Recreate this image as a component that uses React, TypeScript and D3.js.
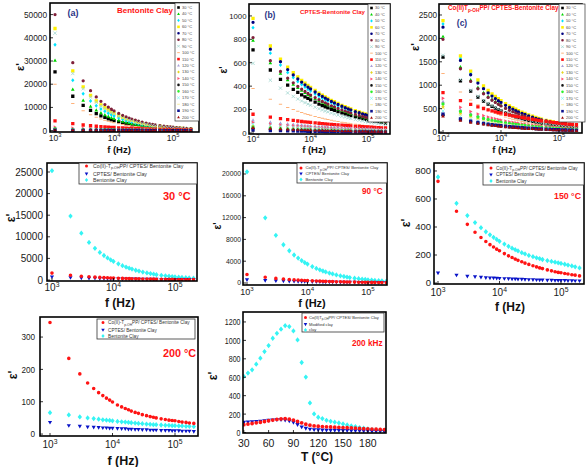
import React from 'react';
import * as d3 from 'd3';

// ---------- shared axis data ----------
const FREQ = [1000, 2000, 3000, 4000, 5000, 6000, 7000, 8000, 9000, 10000, 12000, 14000, 16000, 18000, 20000, 23000, 26000, 30000, 35000, 40000, 45000, 50000, 60000, 70000, 80000, 90000, 100000, 115000, 130000, 150000, 170000, 200000];
const TEMPS = [30, 40, 50, 60, 70, 80, 90, 100, 110, 120, 130, 140, 150, 160, 170, 180, 190, 200];
const T_AXIS = [30, 35, 40, 45, 50, 55, 60, 65, 70, 75, 80, 85, 90, 95, 100, 105, 110, 115, 120, 125, 130, 135, 140, 145, 150, 155, 160, 165, 170, 175, 180, 185, 190, 195, 200];

// ---------- (a) Bentonite Clay ----------
const A_30 = [25300, 14800, 10850, 8700, 7340, 6380, 5670, 5110, 4660, 4300, 3740, 3310, 2990, 2730, 2520, 2260, 2060, 1840, 1640, 1480, 1350, 1240, 1080, 960, 870, 790, 730, 660, 600, 530, 490, 430];
const A_40 = [30300, 17760, 13000, 10420, 8790, 7640, 6790, 6120, 5580, 5150, 4480, 3970, 3580, 3270, 3020, 2710, 2470, 2210, 1960, 1770, 1610, 1490, 1300, 1150, 1040, 950, 870, 780, 720, 640, 580, 510];
const A_50 = [37000, 21680, 15870, 12730, 10730, 9320, 8290, 7470, 6810, 6290, 5480, 4850, 4370, 4000, 3690, 3310, 3010, 2700, 2400, 2160, 1970, 1820, 1580, 1410, 1270, 1160, 1070, 960, 870, 780, 710, 630];
const A_60 = [44000, 25780, 18880, 15140, 12760, 11090, 9860, 8890, 8100, 7480, 6510, 5760, 5190, 4750, 4380, 3930, 3580, 3210, 2850, 2570, 2350, 2160, 1880, 1670, 1510, 1380, 1270, 1140, 1040, 930, 840, 740];
const A_70 = [300, 212, 173, 150, 134, 122, 113, 106, 100, 95, 87, 80, 75, 71, 67, 63, 59, 55, 51, 47, 45, 42, 39, 36, 34, 32, 30, 28, 26, 24, 23, 21];
const A_80 = [50000, 29300, 21450, 17200, 14500, 12600, 11200, 10100, 9200, 8500, 7400, 6550, 5900, 5400, 4980, 4470, 4070, 3650, 3240, 2920, 2670, 2460, 2140, 1900, 1720, 1570, 1440, 1300, 1180, 1060, 960, 850];
const A_90 = [42000, 24610, 18020, 14450, 12180, 10580, 9410, 8480, 7730, 7140, 6220, 5500, 4960, 4540, 4180, 3750, 3420, 3060, 2720, 2450, 2240, 2070, 1800, 1600, 1440, 1310, 1210, 1090, 990, 890, 810, 710];
const A_100 = [20000, 11720, 8580, 6880, 5800, 5040, 4480, 4040, 3680, 3400, 2960, 2620, 2360, 2160, 1990, 1790, 1630, 1460, 1300, 1170, 1070, 980, 860, 760, 690, 630, 580, 520, 470, 420, 380, 340];
const A_110 = [4200, 2970, 2420, 2100, 1880, 1710, 1590, 1490, 1400, 1330, 1210, 1120, 1050, 990, 940, 880, 820, 770, 710, 660, 630, 590, 540, 500, 470, 440, 420, 390, 370, 340, 320, 300];
const A_120 = [900, 636, 519, 450, 402, 367, 340, 319, 300, 284, 260, 240, 225, 212, 202, 188, 176, 165, 152, 142, 134, 127, 116, 108, 101, 95, 90, 84, 79, 73, 69, 64];
const A_130 = [700, 495, 404, 350, 313, 286, 265, 248, 233, 221, 202, 187, 175, 165, 157, 146, 137, 128, 118, 111, 104, 99, 90, 84, 78, 74, 70, 65, 61, 57, 54, 49];
const A_140 = [1500, 1060, 866, 750, 671, 612, 567, 531, 500, 474, 434, 401, 375, 354, 336, 314, 294, 275, 254, 237, 224, 212, 194, 180, 168, 158, 150, 140, 132, 122, 115, 106];
const A_150 = [400, 283, 231, 200, 179, 163, 151, 142, 133, 126, 116, 107, 100, 94, 90, 84, 78, 73, 68, 63, 60, 56, 52, 48, 45, 42, 40, 37, 35, 33, 31, 28];
const A_160 = [800, 566, 462, 400, 358, 326, 302, 283, 266, 253, 231, 214, 200, 189, 179, 167, 157, 146, 135, 126, 119, 113, 103, 96, 90, 84, 80, 74, 70, 65, 61, 57];
const A_170 = [600, 424, 346, 300, 268, 245, 227, 212, 200, 190, 173, 160, 150, 142, 134, 125, 118, 110, 101, 95, 89, 85, 77, 72, 67, 63, 60, 56, 53, 49, 46, 42];
const A_180 = [500, 354, 289, 250, 224, 204, 189, 177, 167, 158, 145, 134, 125, 118, 112, 105, 98, 92, 85, 79, 75, 71, 65, 60, 56, 53, 50, 47, 44, 41, 38, 35];
const A_190 = [200, 141, 115, 100, 89, 82, 76, 71, 67, 63, 58, 53, 50, 47, 45, 42, 39, 37, 34, 32, 30, 28, 26, 24, 22, 21, 20, 19, 18, 16, 15, 14];
const A_200 = [350, 247, 202, 175, 156, 143, 132, 124, 117, 111, 101, 93, 88, 83, 78, 73, 69, 64, 59, 55, 52, 49, 45, 42, 39, 37, 35, 33, 31, 29, 27, 25];

// ---------- (b) CPTES-Bentonite Clay ----------
const B_30 = [710, 538, 457, 408, 373, 346, 326, 309, 295, 283, 263, 247, 234, 224, 214, 202, 193, 182, 171, 163, 155, 148, 138, 130, 123, 117, 112, 107, 102, 96, 91, 85];
const B_40 = [790, 599, 509, 453, 415, 386, 363, 344, 328, 314, 292, 275, 261, 249, 239, 225, 215, 203, 190, 181, 172, 165, 153, 145, 137, 130, 125, 119, 113, 107, 101, 95];
const B_50 = [900, 682, 580, 517, 473, 439, 413, 392, 374, 358, 333, 313, 297, 284, 272, 257, 245, 231, 217, 206, 196, 188, 175, 165, 156, 149, 142, 135, 129, 122, 115, 108];
const B_60 = [980, 743, 631, 563, 515, 478, 450, 426, 407, 390, 363, 341, 323, 309, 296, 279, 267, 252, 236, 224, 214, 205, 190, 179, 170, 162, 155, 147, 140, 132, 125, 118];
const B_70 = [945, 716, 609, 542, 496, 461, 434, 411, 392, 376, 350, 329, 312, 298, 285, 269, 257, 243, 228, 216, 206, 198, 183, 173, 163, 156, 149, 142, 135, 128, 121, 113];
const B_80 = [815, 618, 525, 468, 428, 398, 374, 355, 338, 324, 302, 284, 269, 257, 246, 232, 222, 209, 196, 187, 178, 170, 158, 149, 141, 134, 129, 122, 117, 110, 104, 98];
const B_90 = [595, 451, 383, 342, 312, 290, 273, 259, 247, 237, 220, 207, 196, 187, 180, 170, 162, 153, 143, 136, 130, 124, 115, 109, 103, 98, 94, 89, 85, 80, 76, 71];
const B_100 = [380, 288, 245, 218, 200, 185, 174, 165, 158, 151, 141, 132, 125, 120, 115, 108, 103, 98, 92, 87, 83, 79, 74, 70, 66, 63, 60, 57, 54, 51, 49, 46];
const B_110 = [160, 135, 122, 113, 107, 102, 98, 95, 92, 90, 86, 83, 80, 78, 76, 73, 71, 68, 66, 64, 62, 60, 57, 55, 53, 52, 51, 49, 47, 46, 44, 43];
const B_120 = [110, 93, 84, 78, 74, 70, 68, 65, 63, 62, 59, 57, 55, 53, 52, 50, 49, 47, 45, 44, 42, 41, 39, 38, 37, 36, 35, 34, 33, 31, 30, 29];
const B_130 = [60, 50, 46, 42, 40, 38, 37, 36, 35, 34, 32, 31, 30, 29, 28, 27, 27, 26, 25, 24, 23, 23, 22, 21, 20, 20, 19, 18, 18, 17, 17, 16];
const B_140 = [90, 76, 68, 64, 60, 58, 55, 54, 52, 51, 48, 47, 45, 44, 43, 41, 40, 38, 37, 36, 35, 34, 32, 31, 30, 29, 28, 27, 27, 26, 25, 24];
const B_150 = [40, 34, 30, 28, 27, 26, 25, 24, 23, 22, 21, 21, 20, 19, 19, 18, 18, 17, 16, 16, 15, 15, 14, 14, 13, 13, 13, 12, 12, 11, 11, 11];
const B_160 = [50, 42, 38, 35, 33, 32, 31, 30, 29, 28, 27, 26, 25, 24, 24, 23, 22, 21, 21, 20, 19, 19, 18, 17, 17, 16, 16, 15, 15, 14, 14, 13];
const B_170 = [75, 63, 57, 53, 50, 48, 46, 45, 43, 42, 40, 39, 38, 36, 35, 34, 33, 32, 31, 30, 29, 28, 27, 26, 25, 24, 24, 23, 22, 21, 21, 20];
const B_180 = [30, 25, 23, 21, 20, 19, 18, 18, 17, 17, 16, 16, 15, 15, 14, 14, 13, 13, 12, 12, 12, 11, 11, 10, 10, 10, 9, 9, 9, 9, 8, 8];
const B_190 = [25, 21, 19, 18, 17, 16, 15, 15, 14, 14, 13, 13, 13, 12, 12, 11, 11, 11, 10, 10, 10, 9, 9, 9, 8, 8, 8, 8, 7, 7, 7, 7];
const B_200 = [45, 38, 34, 32, 30, 29, 28, 27, 26, 25, 24, 23, 23, 22, 21, 21, 20, 19, 18, 18, 17, 17, 16, 16, 15, 15, 14, 14, 13, 13, 12, 12];

// ---------- (c) Co(II)Tp-OHPP/ CPTES-Bentonite Clay ----------
const C_30 = [1600, 1093, 874, 747, 661, 597, 549, 510, 478, 451, 408, 374, 349, 326, 307, 285, 267, 246, 227, 210, 197, 186, 168, 155, 144, 135, 127, 118, 110, 102, 95, 87];
const C_40 = [2040, 1393, 1114, 953, 843, 761, 700, 651, 610, 575, 520, 477, 445, 416, 392, 363, 341, 314, 290, 267, 251, 237, 214, 197, 183, 172, 162, 150, 140, 130, 121, 111];
const C_50 = [2310, 1578, 1261, 1079, 954, 862, 792, 737, 691, 651, 589, 541, 504, 471, 444, 411, 386, 356, 328, 303, 284, 268, 243, 223, 207, 195, 183, 170, 159, 147, 137, 125];
const C_60 = [2380, 1626, 1299, 1111, 983, 888, 816, 759, 712, 671, 607, 557, 519, 486, 457, 424, 397, 367, 338, 312, 293, 276, 250, 230, 214, 200, 189, 175, 164, 151, 141, 129];
const C_70 = [2240, 1530, 1223, 1046, 925, 836, 768, 715, 670, 632, 571, 524, 488, 457, 430, 399, 374, 345, 318, 293, 276, 260, 235, 217, 201, 189, 178, 165, 154, 142, 133, 122];
const C_80 = [1980, 1352, 1081, 925, 818, 739, 679, 632, 592, 558, 505, 463, 432, 404, 380, 352, 331, 305, 281, 259, 244, 230, 208, 191, 178, 167, 157, 146, 136, 126, 117, 108];
const C_90 = [1640, 1120, 895, 766, 677, 612, 563, 523, 490, 462, 418, 384, 358, 335, 315, 292, 274, 253, 233, 215, 202, 190, 172, 159, 147, 138, 130, 121, 113, 104, 97, 89];
const C_100 = [1250, 854, 683, 584, 516, 466, 429, 399, 374, 353, 319, 293, 273, 255, 240, 223, 209, 193, 178, 164, 154, 145, 131, 121, 112, 105, 99, 92, 86, 80, 74, 68];
const C_110 = [840, 672, 591, 539, 502, 473, 451, 432, 416, 402, 380, 361, 346, 333, 322, 307, 296, 283, 269, 258, 249, 240, 227, 216, 207, 199, 192, 184, 177, 169, 162, 155];
const C_120 = [650, 476, 397, 348, 315, 290, 271, 255, 242, 231, 213, 198, 187, 177, 169, 159, 150, 140, 131, 124, 117, 112, 103, 96, 90, 86, 82, 77, 73, 68, 64, 60];
const C_130 = [540, 395, 329, 289, 262, 241, 225, 212, 201, 192, 177, 165, 155, 147, 140, 132, 125, 117, 109, 103, 97, 93, 85, 80, 75, 71, 68, 64, 60, 57, 53, 50];
const C_140 = [720, 527, 439, 386, 349, 321, 300, 283, 268, 256, 235, 220, 207, 196, 187, 176, 166, 156, 145, 137, 130, 124, 114, 107, 100, 95, 91, 85, 81, 76, 71, 66];
const C_150 = [360, 264, 220, 193, 175, 161, 150, 141, 134, 128, 118, 110, 103, 98, 94, 88, 83, 78, 73, 68, 65, 62, 57, 53, 50, 48, 45, 42, 40, 38, 36, 33];
const C_160 = [600, 439, 366, 322, 291, 268, 250, 236, 223, 213, 196, 183, 172, 163, 156, 146, 139, 130, 121, 114, 108, 103, 95, 89, 83, 79, 76, 71, 67, 63, 59, 55];
const C_170 = [450, 329, 275, 241, 218, 201, 188, 177, 167, 160, 147, 137, 129, 122, 117, 110, 104, 97, 91, 86, 81, 77, 71, 67, 63, 59, 57, 53, 50, 47, 45, 41];
const C_180 = [500, 366, 305, 268, 243, 223, 209, 197, 186, 178, 164, 153, 144, 136, 130, 122, 116, 108, 101, 95, 90, 86, 79, 74, 70, 66, 63, 59, 56, 53, 50, 46];
const C_190 = [380, 278, 232, 204, 184, 169, 158, 149, 141, 135, 124, 116, 109, 103, 99, 93, 88, 82, 77, 72, 68, 65, 60, 56, 53, 50, 48, 45, 43, 40, 38, 35];
const C_200 = [340, 249, 207, 182, 165, 152, 142, 134, 126, 121, 111, 104, 98, 92, 88, 83, 79, 73, 69, 65, 61, 58, 54, 50, 47, 45, 43, 40, 38, 36, 34, 31];

// ---------- comparison panels ----------
const CO_90 = [1550, 1059, 846, 724, 640, 578, 532, 494, 463, 437, 395, 363, 338, 316, 298, 276, 259, 239, 220, 203, 191, 180, 163, 150, 139, 131, 123, 114, 107, 99, 92, 84];
const BENT_90 = [20400, 11950, 8750, 7020, 5920, 5140, 4570, 4120, 3750, 3470, 3020, 2670, 2410, 2200, 2030, 1820, 1660, 1490, 1320, 1190, 1090, 1000, 870, 780, 700, 640, 590, 530, 480, 430, 390, 340];
const CO_150 = [726, 513, 419, 363, 325, 296, 274, 257, 242, 230, 210, 194, 182, 171, 162, 152, 142, 133, 123, 115, 108, 103, 94, 87, 81, 76, 73, 68, 64, 59, 56, 51];
const CPTES_150 = [71, 56, 48, 44, 41, 38, 36, 35, 34, 33, 31, 30, 29, 28, 27, 26, 25, 24, 23, 22, 21, 21, 20, 19, 18, 18, 17, 17, 16, 16, 15, 15];
const BENT_150 = [757, 569, 482, 432, 395, 366, 344, 326, 311, 298, 278, 262, 249, 238, 229, 217, 208, 197, 188, 180, 174, 168, 160, 154, 149, 144, 140, 134, 128, 122, 116, 108];
const CO_200 = [345, 234, 186, 158, 141, 128, 119, 111, 105, 99, 90, 84, 79, 75, 71, 67, 64, 60, 57, 54, 52, 50, 47, 45, 43, 42, 41, 39, 37, 36, 34, 33];
const CPTES_200 = [36, 26, 24, 22, 21, 20, 19, 19, 18, 18, 17, 16, 16, 15, 15, 14, 14, 13, 13, 12, 12, 12, 11, 11, 11, 10, 10, 10, 9, 9, 9, 8];
const BENT_200 = [66, 59, 53, 50, 48, 46, 44, 43, 42, 41, 39, 38, 37, 36, 35, 34, 33, 32, 31, 30, 29, 29, 28, 27, 27, 26, 26, 25, 25, 24, 24, 23];

// ---------- 200 kHz vs temperature ----------
const CO_T = [85, 92, 98, 105, 112, 120, 128, 135, 142, 148, 150, 145, 135, 120, 105, 90, 80, 72, 68, 65, 62, 60, 58, 56, 54, 52, 50, 48, 45, 42, 40, 38, 36, 34, 32];
const MOD_T = [110, 112, 115, 118, 122, 127, 132, 136, 138, 138, 135, 125, 110, 85, 60, 45, 35, 30, 28, 26, 25, 24, 23, 22, 21, 20, 19, 18, 17, 16, 15, 14, 13, 12, 11];
const CLAY_T = [609, 645, 681, 742, 807, 879, 944, 1023, 1077, 1121, 1160, 1150, 1103, 1005, 760, 602, 321, 202, 166, 151, 133, 122, 112, 104, 94, 83, 72, 65, 54, 47, 40, 32, 29, 25, 22];

// ---------- tick labels ----------
const X_LOG_TICKS = [1000, 10000, 100000];
const YT_A = [0, 10000, 20000, 30000, 40000, 50000];
const YT_B = [0, 200, 400, 600, 800, 1000];
const YT_C = [0, 500, 1000, 1500, 2000, 2500];
const YT_D = [0, 5000, 10000, 15000, 20000, 25000];
const YT_E = [0, 4000, 8000, 12000, 16000, 20000];
const YT_F = [0, 200, 400, 600, 800];
const YT_G = [0, 100, 200, 300];
const YT_H = [0, 200, 400, 600, 800, 1000, 1200];
const XT_H = [30, 60, 90, 120, 150, 180];

// ---------- styles ----------
const FONT = "'Liberation Sans', Arial, Helvetica, sans-serif";
const TEMP_COLORS = ['#000000', '#00d400', '#00e4ff', '#fff000', '#00007f', '#80203a', '#9fd6cf', '#ffb27a', '#ff1010', '#a9a0d8', '#e6d61e', '#ff5070', '#141414', '#2ef02e', '#7ff5f5', '#f5eb9c', '#0c1290', '#a00c0c'];
const TEMP_SHAPES = ['square', 'triUp', 'diamond', 'square', 'circle', 'circle', 'x', 'dash', 'square', 'triUp', 'diamond', 'triRight', 'circle', 'circle', 'x', 'dash', 'square', 'triUp'];
const RED = '#ff1414';
const BLUE = '#0a14c8';
const CYAN = '#35f4f4';
const NAVY = '#2b3486';

function markerD(shape: string, x: number, y: number, s: number): string {
  const h = s / 2;
  const f = (v: number) => v.toFixed(2);
  switch (shape) {
    case 'circle':
      return `M${f(x - h)},${f(y)}a${h},${h} 0 1,0 ${s},0a${h},${h} 0 1,0 ${-s},0Z`;
    case 'square':
      return `M${f(x - h)},${f(y - h)}h${s}v${s}h${-s}Z`;
    case 'triUp':
      return `M${f(x)},${f(y - h * 1.15)}L${f(x + h * 1.1)},${f(y + h * 0.8)}L${f(x - h * 1.1)},${f(y + h * 0.8)}Z`;
    case 'triDown':
      return `M${f(x)},${f(y + h * 1.15)}L${f(x + h * 1.1)},${f(y - h * 0.8)}L${f(x - h * 1.1)},${f(y - h * 0.8)}Z`;
    case 'triRight':
      return `M${f(x + h * 1.15)},${f(y)}L${f(x - h * 0.8)},${f(y - h * 1.1)}L${f(x - h * 0.8)},${f(y + h * 1.1)}Z`;
    case 'diamond':
      return `M${f(x)},${f(y - h * 1.2)}L${f(x + h)},${f(y)}L${f(x)},${f(y + h * 1.2)}L${f(x - h)},${f(y)}Z`;
    case 'dash':
      return `M${f(x - h)},${f(y - 0.5)}h${s}v1h${-s}Z`;
    case 'x':
      return `M${f(x - h)},${f(y - h)}L${f(x + h)},${f(y + h)}M${f(x + h)},${f(y - h)}L${f(x - h)},${f(y + h)}`;
  }
  return '';
}

function MarkPath({ d, shape, color }: { d: string; shape: string; color: string }) {
  return shape === 'x' ? <path d={d} fill="none" stroke={color} strokeWidth={0.8} /> : <path d={d} fill={color} />;
}

type Ser = { ys: number[]; color: string; shape: string; size: number };
interface PP {
  id: string; x0: number; y0: number; x1: number; y1: number;
  log: boolean; xd: [number, number]; yd: [number, number];
  xs: number[]; series: Ser[];
  yTicks: number[]; xTicks: number[];
  yLabX: number; yFs: number; ySx?: number;
  xBase: number; xFs: number;
}

function Panel(p: PP) {
  const sx: any = p.log
    ? d3.scaleLog().domain([Math.pow(10, p.xd[0]), Math.pow(10, p.xd[1])]).range([p.x0, p.x1])
    : d3.scaleLinear().domain(p.xd).range([p.x0, p.x1]);
  const sy = d3.scaleLinear().domain(p.yd).range([p.y1, p.y0]);
  return (
    <g>
      <defs>
        <clipPath id={p.id}>
          <rect x={p.x0} y={p.y0} width={p.x1 - p.x0} height={p.y1 - p.y0} />
        </clipPath>
      </defs>
      <g clipPath={`url(#${p.id})`}>
        {p.series.map((s, i) => {
          let d = '';
          p.xs.forEach((xv, j) => { d += markerD(s.shape, sx(xv), sy(s.ys[j]), s.size); });
          return <MarkPath key={i} d={d} shape={s.shape} color={s.color} />;
        })}
      </g>
      {p.yTicks.map((t) => (
        <g key={'y' + t}>
          <line x1={p.x0} x2={p.x0 + 3} y1={sy(t)} y2={sy(t)} stroke="#000" strokeWidth={0.8} />
          <text transform={`translate(${p.yLabX},${sy(t)}) scale(${p.ySx ?? 1},1)`} textAnchor="end" dy="0.36em" fontSize={p.yFs} fill="#1a1a1a">{t}</text>
        </g>
      ))}
      {p.xTicks.map((t) => (
        <g key={'x' + t}>
          <line x1={sx(t)} x2={sx(t)} y1={p.y1} y2={p.y1 - 3} stroke="#000" strokeWidth={0.8} />
          {p.log ? (
            <text x={sx(t)} y={p.xBase} textAnchor="middle" fontSize={p.xFs} fill="#1a1a1a">
              10<tspan dy={-p.xFs * 0.42} fontSize={p.xFs * 0.68}>{Math.round(Math.log10(t))}</tspan>
            </text>
          ) : (
            <text x={sx(t)} y={p.xBase} textAnchor="middle" fontSize={p.xFs} fill="#1a1a1a">{t}</text>
          )}
        </g>
      ))}
      <rect x={p.x0} y={p.y0} width={p.x1 - p.x0} height={p.y1 - p.y0} fill="none" stroke="#000" strokeWidth={1.6} />
    </g>
  );
}

function TempLegend({ x0, y0, x1, y1, mx, tx, ty0, step, fs }: any) {
  return (
    <g>
      <rect x={x0} y={y0} width={x1 - x0} height={y1 - y0} fill="#fff" stroke="#333" strokeWidth={0.7} />
      {TEMPS.map((t, i) => {
        const y = ty0 + i * step;
        return (
          <g key={t}>
            <MarkPath d={markerD(TEMP_SHAPES[i], mx, y, 2.6)} shape={TEMP_SHAPES[i]} color={TEMP_COLORS[i]} />
            <text x={tx} y={y} dy="0.35em" fontSize={fs} fill="#444">{t} °C</text>
          </g>
        );
      })}
    </g>
  );
}

function MatLegend({ x0, y0, x1, y1, mx, tx, ys, fs, labels }: any) {
  const cols = [RED, BLUE, CYAN];
  const shapes = ['circle', 'triDown', 'diamond'];
  const sizes = [3, 3.2, 3.2];
  return (
    <g>
      <rect x={x0} y={y0} width={x1 - x0} height={y1 - y0} fill="#fff" stroke="#333" strokeWidth={0.8} />
      {labels.map((lab: any, i: number) => (
        <g key={i}>
          <MarkPath d={markerD(shapes[i], mx, ys[i], sizes[i])} shape={shapes[i]} color={cols[i]} />
          <text x={tx} y={ys[i]} dy="0.35em" fontSize={fs} fill="#333">{lab}</text>
        </g>
      ))}
    </g>
  );
}

function coLabel(fs: number, dash: boolean) {
  return (
    <>
      {dash ? 'Co(II)-T' : 'Co(II)T'}
      <tspan fontSize={fs * 0.7} dy={fs * 0.3}>p-OH</tspan>
      <tspan dy={-fs * 0.3}>PP/ CPTES/ Bentonite Clay</tspan>
    </>
  );
}

function YTitle({ x, y, fs }: { x: number; y: number; fs: number }) {
  return (
    <text transform={`translate(${x},${y}) rotate(-90)`} textAnchor="middle" dy="0.35em" fontSize={fs} fontWeight="bold" fill="#111">ε'</text>
  );
}

const tempSeries = (arrs: number[][], size: number): Ser[] =>
  arrs.map((ys, i) => ({ ys, color: TEMP_COLORS[i], shape: TEMP_SHAPES[i], size }));

const matSeries = (co: number[], cp: number[], be: number[], s: number): Ser[] => [
  { ys: be, color: CYAN, shape: 'diamond', size: s + 0.6 },
  { ys: cp, color: BLUE, shape: 'triDown', size: s },
  { ys: co, color: RED, shape: 'circle', size: s - 0.2 },
];

export default function App() {
  const A = [A_30, A_40, A_50, A_60, A_70, A_80, A_90, A_100, A_110, A_120, A_130, A_140, A_150, A_160, A_170, A_180, A_190, A_200];
  const B = [B_30, B_40, B_50, B_60, B_70, B_80, B_90, B_100, B_110, B_120, B_130, B_140, B_150, B_160, B_170, B_180, B_190, B_200];
  const C = [C_30, C_40, C_50, C_60, C_70, C_80, C_90, C_100, C_110, C_120, C_130, C_140, C_150, C_160, C_170, C_180, C_190, C_200];
  const matLabels = (fs: number) => [coLabel(fs, true), 'CPTES/ Bentonite Clay', 'Bentonite Clay'];
  return (
    <svg width={586} height={467} viewBox="0 0 586 467" style={{ position: 'absolute', left: 0, top: 0, background: '#fff' }} fontFamily={FONT}>
      <rect width={586} height={467} fill="#fff" />

      {/* ---------- top row ---------- */}
      <Panel id="pa" x0={50} y0={3} x1={199} y1={132} log xd={[2.915, 5.44]} yd={[-600, 55000]} xs={FREQ} series={tempSeries(A, 3.3)}
        yTicks={YT_A} xTicks={X_LOG_TICKS} yLabX={47} yFs={8.3} xBase={141} xFs={8.5} />
      <TempLegend x0={175} y0={3} x1={199} y1={121} mx={178.5} tx={182} ty0={7.5} step={6.45} fs={4} />
      <text x={73} y={16} textAnchor="middle" fontSize={9} fontWeight="bold" fill={NAVY}>(a)</text>
      <text x={117} y={12.5} fontSize={8} fontWeight="bold" fill={RED}>Bentonite Clay</text>
      <YTitle x={20} y={67} fs={11} />
      <text x={119} y={153} textAnchor="middle" fontSize={9.5} fontWeight="bold" fill="#111">f (Hz)</text>

      <Panel id="pb" x0={249} y0={4} x1={390} y1={134} log xd={[2.93, 5.38]} yd={[-9, 1102]} xs={FREQ} series={tempSeries(B, 3.3)}
        yTicks={YT_B} xTicks={X_LOG_TICKS} yLabX={246.5} yFs={7.8} xBase={142} xFs={8.5} />
      <TempLegend x0={368} y0={4} x1={390} y1={122} mx={371.5} tx={375} ty0={8} step={6.45} fs={3.9} />
      <text x={270} y={18} textAnchor="middle" fontSize={8.5} fontWeight="bold" fill={NAVY}>(b)</text>
      <text x={300} y={13.5} fontSize={6.1} fontWeight="bold" fill={RED}>CPTES-Bentonite Clay</text>
      <YTitle x={223} y={70} fs={10} />
      <text x={314} y={153} textAnchor="middle" fontSize={9.5} fontWeight="bold" fill="#111">f (Hz)</text>

      <Panel id="pc" x0={439} y0={4} x1={582} y1={133} log xd={[2.931, 5.397]} yd={[-21, 2735]} xs={FREQ} series={tempSeries(C, 3.3)}
        yTicks={YT_C} xTicks={X_LOG_TICKS} yLabX={437} yFs={8.2} xBase={141} xFs={8.5} />
      <TempLegend x0={559} y0={4} x1={585} y1={122} mx={562.5} tx={566} ty0={8} step={6.45} fs={4} />
      <text x={462} y={26} textAnchor="middle" fontSize={8.5} fontWeight="bold" fill={NAVY}>(c)</text>
      <text x={448} y={10} fontSize={6.3} fontWeight="bold" fill={RED}>
        Co(II)T<tspan fontSize={4.7} dy={2}>p-OH</tspan><tspan dy={-2}>PP/ CPTES-Bentonite Clay</tspan>
      </text>
      <YTitle x={415} y={47} fs={11} />
      <text x={504} y={153} textAnchor="middle" fontSize={9.5} fontWeight="bold" fill="#111">f (Hz)</text>

      {/* ---------- middle row ---------- */}
      <Panel id="pd" x0={47} y0={163} x1={197} y1={281} log xd={[2.919, 5.358]} yd={[-231, 27083]} xs={FREQ}
        series={matSeries(C_30, B_30, A_30, 3.8)} yTicks={YT_D} xTicks={X_LOG_TICKS} yLabX={43} yFs={10} xBase={291} xFs={10} />
      <MatLegend x0={79} y0={163} x1={197} y1={184} mx={86.5} tx={93} ys={[166, 173.8, 180]} fs={5.2} labels={matLabels(5.2)} />
      <text x={163} y={200} fontSize={11} fontWeight="bold" fill={RED}>30 °C</text>
      <YTitle x={11} y={218} fs={12} />
      <text x={120} y={307} textAnchor="middle" fontSize={12} fontWeight="bold" fill="#111">f (Hz)</text>

      <Panel id="pe" x0={243} y0={163} x1={387} y1={285} log xd={[2.934, 5.314]} yd={[-367, 22018]} xs={FREQ}
        series={matSeries(CO_90, B_90, BENT_90, 3.8)} yTicks={YT_E} xTicks={X_LOG_TICKS} yLabX={241} yFs={6.8} xBase={295} xFs={9} />
      <MatLegend x0={297} y0={163} x1={387} y1={183} mx={301} tx={305.5} ys={[168, 173.7, 179.5]} fs={4.2} labels={matLabels(4.2)} />
      <text x={362} y={194} fontSize={8.2} fontWeight="bold" fill={RED}>90 °C</text>
      <YTitle x={217} y={226} fs={10} />
      <text x={312} y={307} textAnchor="middle" fontSize={11} fontWeight="bold" fill="#111">f (Hz)</text>

      <Panel id="pf" x0={434} y0={163} x1={584} y1={284} log xd={[2.935, 5.374]} yd={[-7, 857]} xs={FREQ}
        series={matSeries(CO_150, CPTES_150, BENT_150, 3.8)} yTicks={YT_F} xTicks={X_LOG_TICKS} yLabX={431} yFs={9.5} xBase={296} xFs={10} />
      <MatLegend x0={483} y0={163} x1={584} y1={185} mx={491} tx={496} ys={[168, 174.7, 181]} fs={4.7} labels={matLabels(4.7)} />
      <text x={554} y={199} fontSize={8.8} fontWeight="bold" fill={RED}>150 °C</text>
      <YTitle x={406} y={223} fs={12} />
      <text x={510} y={311} textAnchor="middle" fontSize={12} fontWeight="bold" fill="#111">f (Hz)</text>

      {/* ---------- bottom row ---------- */}
      <Panel id="pg" x0={40} y0={317} x1={198} y1={436} log xd={[2.84, 5.368]} yd={[-6, 362]} xs={FREQ}
        series={matSeries(CO_200, CPTES_200, BENT_200, 3.8)} yTicks={YT_G} xTicks={X_LOG_TICKS} yLabX={35} yFs={9.5} ySx={0.86} xBase={448} xFs={10} />
      <MatLegend x0={97} y0={319} x1={195} y1={339} mx={103} tx={108} ys={[322.5, 330, 336]} fs={4.7} labels={matLabels(4.7)} />
      <text x={163} y={357} fontSize={10.8} fontWeight="bold" fill={RED}>200 °C</text>
      <YTitle x={13} y={375} fs={12} />
      <text x={123} y={465} textAnchor="middle" fontSize={12.5} fontWeight="bold" fill="#111">f (Hz)</text>

      <Panel id="ph" x0={243} y0={312} x1={386} y1={433} log={false} xd={[29, 202]} yd={[-5, 1308]} xs={T_AXIS}
        series={[
          { ys: CLAY_T, color: CYAN, shape: 'diamond', size: 4.4 },
          { ys: MOD_T, color: BLUE, shape: 'triDown', size: 4 },
          { ys: CO_T, color: RED, shape: 'circle', size: 3.8 },
        ]}
        yTicks={YT_H} xTicks={XT_H} yLabX={240.5} yFs={9.4} ySx={0.75} xBase={447} xFs={10.5} />
      <MatLegend x0={302} y0={313} x1={384} y1={332} mx={305.5} tx={309} ys={[317.5, 324.3, 330]} fs={4.1}
        labels={[coLabel(4.1, false), 'Modified clay', 'clay']} />
      <text x={352} y={346} fontSize={8.2} fontWeight="bold" fill={RED}>200 kHz</text>
      <YTitle x={213} y={376} fs={12} />
      <text x={317} y={461} textAnchor="middle" fontSize={12} fontWeight="bold" fill="#111">T (°C)</text>
    </svg>
  );
}
